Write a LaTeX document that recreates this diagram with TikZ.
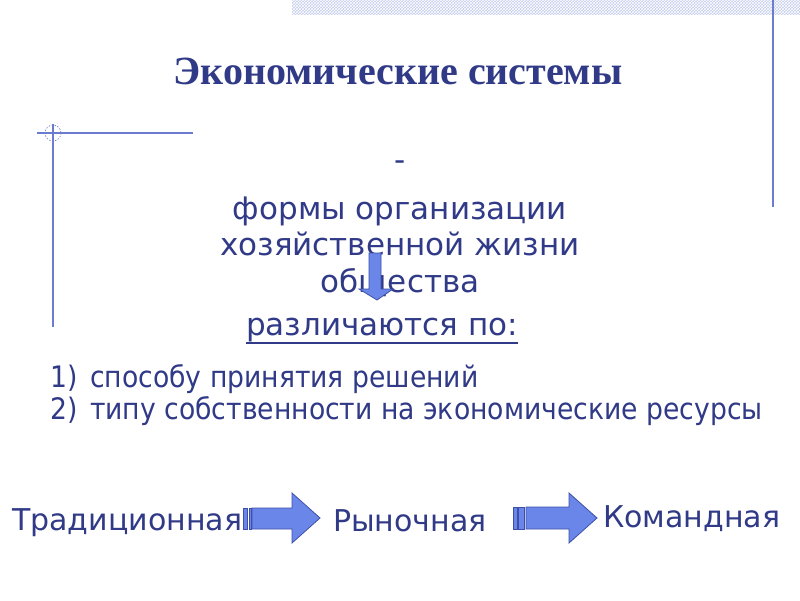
\documentclass[tikz,border=0pt]{standalone}
\usepackage{fontspec}
\setmainfont{DejaVu Sans}
\newfontfamily\titlefont{Liberation Serif}
\newfontfamily\condfont{DejaVu Sans Condensed}
\usetikzlibrary{patterns}
\definecolor{txt}{RGB}{48,58,135}
\definecolor{deco}{RGB}{106,123,208}
\definecolor{band}{RGB}{196,205,238}
\definecolor{arrfill}{RGB}{106,134,232}
\definecolor{arrline}{RGB}{61,79,168}
\tikzset{
  body/.style={text=txt,inner sep=0pt,font=\fontsize{31}{36}\selectfont},
  listtxt/.style={text=txt,inner sep=0pt,anchor=base west,font=\condfont\fontsize{29.6}{34}\selectfont},
  systxt/.style={text=txt,inner sep=0pt,font=\fontsize{30}{34}\selectfont},
  decoline/.style={draw=deco,line width=1.2pt},
  blockarrow/.style={fill=arrfill,draw=arrline,line width=0.8pt,line join=miter},
}
\begin{document}
\begin{tikzpicture}[x=1pt,y=-1pt]
\useasboundingbox (0,0) rectangle (800,600);
\fill[white] (0,0) rectangle (800,600);
% top band
\fill[band] (292,0) rectangle (800,15);
\pattern[pattern=crosshatch,pattern color=white] (292,0) rectangle (800,15);
% decorative lines
\draw[decoline] (773,0) -- (773,207);
\draw[decoline] (37,133) -- (193,133);
\draw[decoline] (53,124) -- (53,327);
\draw[deco,line width=0.6pt,dash pattern=on 1.5pt off 1.5pt] (53,133) circle (8);
% title
\node[text=txt,inner sep=0pt,anchor=base,font=\titlefont\bfseries\fontsize{40}{46}\selectfont] (title) at (398,84) {Экономические системы};
% dash
\node[body,anchor=base] (dash) at (400,170) {-};
% definition
\node[body,anchor=base] (l1) at (400,219) {формы организации};
\node[body,anchor=base] (l2) at (400,255) {хозяйственной жизни};
\node[body,anchor=base] (l3) at (400,292) {общества};
% down arrow
\draw[blockarrow] (369,253) -- (381,253) -- (381,289) -- (393,289) -- (377,300) -- (359,289) -- (369,289) -- cycle;
% differ by
\node[body,anchor=base] (diff) at (382,335) {различаются по:};
\draw[txt,line width=1.5pt] ([yshift=-8pt]diff.base west) -- ([yshift=-8pt]diff.base east);
% list
\node[listtxt] (n1) at (50,387) {1)};
\node[listtxt] (i1) at (90,387) {способу принятия решений};
\node[listtxt] (n2) at (50,419) {2)};
\node[listtxt] (i2) at (90,419) {типу собственности на экономические ресурсы};
% systems
\node[systxt,anchor=base west] (trad) at (12,530) {Традиционная};
\node[systxt,anchor=base west] (mark) at (333,531) {Рыночная};
\node[systxt,anchor=base west] (cmd) at (603,527) {Командная};
% arrow 1
\draw[blockarrow] (243,508) rectangle (247,529);
\draw[blockarrow] (249,508) rectangle (251,529);
\draw[blockarrow] (252,508) -- (292,508) -- (292,493) -- (320,518) -- (292,543) -- (292,529) -- (252,529) -- cycle;
% arrow 2
\draw[blockarrow] (513,507) rectangle (517,529);
\draw[blockarrow] (518,507) rectangle (524,529);
\draw[blockarrow] (526,507) -- (569,507) -- (569,493) -- (597,518) -- (569,543) -- (569,529) -- (526,529) -- cycle;
\end{tikzpicture}
\end{document}
